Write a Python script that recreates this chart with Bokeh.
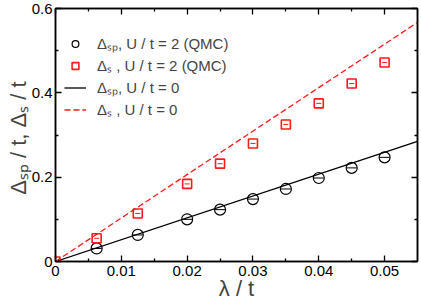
from bokeh.plotting import figure
from bokeh.models import (FixedTicker, LinearAxis, Legend, LegendItem, Range1d,
                          CustomLabelingPolicy)
from bokeh.embed import file_html
from bokeh.resources import INLINE

# ---- data ----
lam_sp_qmc = [0.00625, 0.0125, 0.02, 0.025, 0.03, 0.035, 0.04, 0.045, 0.05]
dsp_qmc = [0.031, 0.063, 0.100, 0.123, 0.148, 0.172, 0.198, 0.222, 0.247]
lam_s_qmc = [0.0, 0.00625, 0.0125, 0.02, 0.025, 0.03, 0.035, 0.04, 0.045, 0.05]
ds_qmc = [0.0, 0.055, 0.114, 0.184, 0.232, 0.280, 0.325, 0.375, 0.422, 0.472]
lam_line = [0.0, 0.055]
dsp_u0 = [0.0, 0.285]
ds_u0 = [0.0, 0.567]

x_ticks = [0.0, 0.01, 0.02, 0.03, 0.04, 0.05]
x_tick_labels = ["0", "0.01", "0.02", "0.03", "0.04", "0.05"]
x_minor = [0.005, 0.015, 0.025, 0.035, 0.045]
y_ticks = [0.0, 0.2, 0.4, 0.6]
y_tick_labels = ["0", "0.2", "0.4", "0.6"]
y_minor = [0.1, 0.3, 0.5]

legend_labels = ["Δₛₚ, U / t = 2 (QMC)", "Δₛ , U / t = 2 (QMC)", "Δₛₚ, U / t = 0", "Δₛ , U / t = 0"]
x_label = "λ / t"
y_label = "Δₛₚ / t,  Δₛ / t"

FONT = "Liberation Sans"
RED = "#ff1a1a"

p = figure(width=421, height=303, output_backend="svg", toolbar_location=None,
           x_range=Range1d(0, 0.055), y_range=Range1d(0, 0.6),
           min_border_left=55, min_border_right=3, min_border_top=8, min_border_bottom=42)
p.grid.visible = False
p.background_fill_color = "white"
p.outline_line_color = "black"
p.outline_line_width = 1.5

# extra mirrored axes (ticks only)
hide_all = CustomLabelingPolicy(code="""
for (const i of indices) { indices.unset(i) }
return indices
""")
p.add_layout(LinearAxis(major_label_policy=hide_all), "right")
p.add_layout(LinearAxis(major_label_policy=hide_all), "above")

for ax in p.axis:
    ax.axis_line_width = 1.5
    ax.major_tick_in = 6
    ax.major_tick_out = 0
    ax.minor_tick_in = 3
    ax.minor_tick_out = 0
    ax.major_tick_line_width = 1.3
    ax.minor_tick_line_width = 1.3
    ax.major_label_text_font = FONT
    ax.major_label_text_font_size = "15px"
    ax.major_label_text_color = "black"
    ax.axis_label_text_font = FONT
    ax.axis_label_text_font_style = "normal"
    ax.axis_label_text_font_size = "22px"

for ax in p.xaxis:
    ax.ticker = FixedTicker(ticks=x_ticks, minor_ticks=x_minor)
    ax.major_label_overrides = dict(zip(x_ticks, x_tick_labels))
for ax in p.yaxis:
    ax.ticker = FixedTicker(ticks=y_ticks, minor_ticks=y_minor)
    ax.major_label_overrides = dict(zip(y_ticks, y_tick_labels))

p.below[0].axis_label = x_label
p.below[0].major_label_standoff = 4
p.below[0].axis_label_standoff = -3
p.left[0].axis_label = y_label
p.left[0].major_label_standoff = 3
p.left[0].axis_label_standoff = -2
for ax in (p.right[0], p.above[0]):
    ax.major_label_text_font_size = "1px"
    ax.major_label_standoff = 0

# lines
l_sp = p.line(lam_line, dsp_u0, line_color="black", line_width=1.3)
l_s = p.line(lam_line, ds_u0, line_color=RED, line_width=1.3, line_dash="6 3")

# QMC points
c_sp = p.scatter(lam_sp_qmc, dsp_qmc, marker="circle", size=11, fill_color=None,
                 line_color="black", line_width=1.2)
p.scatter(lam_sp_qmc, dsp_qmc, marker="dash", size=10, line_color="black", line_width=1)
c_s = p.scatter(lam_s_qmc, ds_qmc, marker="square", size=9, fill_color=None,
                line_color=RED, line_width=1.6)
p.scatter(lam_s_qmc, ds_qmc, marker="dash", size=5, line_color=RED, line_width=1)

legend = Legend(items=[
    LegendItem(label=legend_labels[0], renderers=[c_sp]),
    LegendItem(label=legend_labels[1], renderers=[c_s]),
    LegendItem(label=legend_labels[2], renderers=[l_sp]),
    LegendItem(label=legend_labels[3], renderers=[l_s]),
], location=(9, 142))
legend.border_line_color = None
legend.background_fill_alpha = 0
legend.padding = 0
legend.margin = 0
legend.spacing = 2
legend.glyph_width = 22
legend.glyph_height = 17
legend.label_height = 17
legend.label_standoff = 11
legend.label_text_font = FONT
legend.label_text_font_size = "15px"
p.add_layout(legend, "center")

open("out.html", "w").write(file_html(p, INLINE))
